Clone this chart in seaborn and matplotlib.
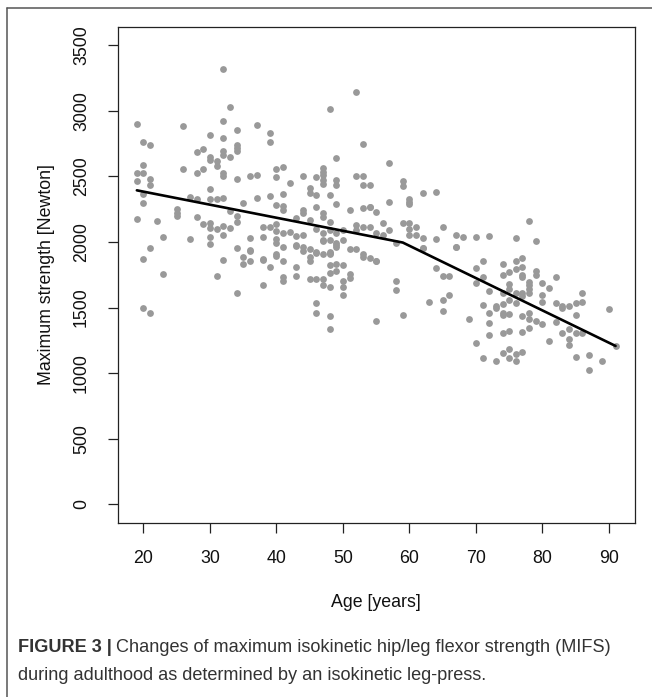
import matplotlib
matplotlib.use("Agg")
import matplotlib.pyplot as plt
from matplotlib.lines import Line2D
import seaborn as sns
import pandas as pd

# age in years and maximum strength in Newton, column by column
age = [19, 19, 19, 19,
       20, 20, 20, 20, 20, 20, 20,
       21, 21, 21, 21, 21,
       22, 23, 23,
       25, 25, 25,
       26, 26,
       27, 27,
       28, 28, 28, 28,
       29, 29, 29,
       30, 30, 30, 30, 30, 30, 30, 30, 30,
       31, 31, 31, 31, 31,
       32, 32, 32, 32, 32, 32, 32, 32, 32, 32, 32,
       33, 33, 33, 33,
       34, 34, 34, 34, 34, 34, 34, 34, 34,
       35, 35, 35,
       36, 36, 36, 36, 36,
       37, 37, 37,
       38, 38, 38, 38, 38,
       39, 39, 39, 39, 39,
       40, 40, 40, 40, 40, 40, 40, 40, 40,
       41, 41, 41, 41, 41, 41, 41, 41, 41,
       42, 42,
       43, 43, 43, 43, 43, 43,
       44, 44, 44, 44, 44, 44,
       45, 45, 45, 45, 45, 45, 45,
       46, 46, 46, 46, 46, 46, 46, 46, 46,
       47, 47, 47, 47, 47, 47, 47, 47, 47, 47, 47, 47, 47,
       48, 48, 48, 48, 48, 48, 48, 48, 48, 48, 48, 48, 48,
       49, 49, 49, 49, 49, 49, 49, 49, 49, 49,
       50, 50, 50, 50, 50, 50,
       51, 51, 51, 51,
       52, 52, 52, 52, 52,
       53, 53, 53, 53, 53, 53, 53,
       54, 54, 54, 54, 54,
       55, 55, 55, 55, 55,
       56, 56,
       57, 57, 57,
       58, 58, 58,
       59, 59, 59, 59,
       60, 60, 60, 60, 60, 60,
       61, 61,
       62, 62, 62, 62,
       63,
       64, 64, 64,
       65, 65, 65, 65,
       66, 66,
       67, 67, 67,
       68,
       69,
       70, 70, 70, 70,
       71, 71, 71, 71,
       72, 72, 72, 72, 72,
       73, 73, 73,
       74, 74, 74, 74, 74, 74, 74, 74,
       75, 75, 75, 75, 75, 75, 75, 75,
       76, 76, 76, 76, 76, 76, 76,
       77, 77, 77, 77, 77, 77, 77, 77, 77,
       78, 78, 78, 78, 78, 78, 78, 78,
       79, 79, 79, 79,
       80, 80, 80, 80,
       81, 81,
       82, 82, 82,
       83, 83, 83,
       84, 84, 84, 84,
       85, 85, 85, 85,
       86, 86, 86,
       87, 87,
       89, 90, 91]

strength = [2899, 2525, 2464, 2177,
            2761, 2584, 2523, 2363, 2297, 1872, 1499,
            2736, 2482, 2434, 1956, 1458,
            2157, 2040, 1758,
            2248, 2223, 2197,
            2883, 2553,
            2342, 2020,
            2688, 2528, 2327, 2190,
            2711, 2558, 2134,
            2815, 2647, 2624, 2401, 2324, 2147, 2103, 2037, 1987,
            2614, 2579, 2324, 2096, 1738,
            3318, 2922, 2789, 2695, 2662, 2523, 2502, 2337, 2121, 2050, 1862,
            3031, 2645, 2236, 2103,
            2855, 2736, 2713, 2695, 2479, 2197, 2154, 1956, 1613,
            2294, 1887, 1834,
            2505, 2032, 1938, 1928, 1852,
            2891, 2507, 2337,
            2116, 2040, 1867, 1865, 1669,
            2827, 2764, 2350, 2116, 1809,
            2553, 2497, 2284, 2136, 2083, 2022, 1989, 1905, 1895,
            2573, 2363, 2274, 2243, 2065, 1964, 1852, 1732, 1699,
            2446, 2073,
            2180, 2045, 1969, 1974, 1811, 1738,
            2505, 2243, 2218, 2053, 1964, 1928,
            2411, 2370, 2167, 1948, 1887, 1852, 1715,
            2497, 2357, 2269, 2096, 1913, 1920, 1715, 1532, 1456,
            2560, 2535, 2510, 2472, 2439, 2218, 2193, 2065, 2014, 1908, 1715, 1669, 2004,
            3010, 2357, 2154, 2091, 2014, 1913, 1923, 1908, 1821, 1760, 1659, 1435, 1336,
            2637, 2472, 2434, 2286, 2065, 1976, 1989, 1964, 1829, 1776,
            2091, 2014, 1821, 1705, 1659, 1593,
            2243, 1943, 1755, 1725,
            3145, 2505, 2129, 2091, 1943,
            2746, 2505, 2434, 2256, 2116, 1887, 1905,
            2269, 2263, 2116, 1875, 2434,
            2228, 2065, 1855, 1857, 1400,
            2147, 2053,
            2599, 2307, 2091,
            1994, 1705, 1633,
            2467, 2426, 2141, 1443,
            2324, 2307, 2289, 2147, 2096, 2053,
            2116, 2053,
            2370, 2027, 1951, 1951,
            1539,
            2380, 2020, 1804,
            2116, 1740, 1557, 1476,
            1743, 1595,
            2053, 1959, 1959,
            2040,
            1415,
            2040, 1799, 1684, 1227,
            1854, 1730, 1519, 1113,
            2045, 1626, 1461, 1384, 1290,
            1514, 1494, 1095,
            1832, 1748, 1608, 1524, 1456, 1443, 1303, 1151,
            1773, 1679, 1638, 1557, 1450, 1323, 1181, 1113,
            2027, 1857, 1791, 1608, 1537, 1146, 1095,
            1875, 1806, 1748, 1735, 1613, 1588, 1435, 1316, 1163,
            2157, 1697, 1671, 1638, 1608, 1456, 1410, 1341,
            2004, 1781, 1748, 1400,
            1684, 1595, 1544, 1374,
            1646, 1247,
            1730, 1537, 1392,
            1511, 1494, 1303,
            1511, 1334, 1257, 1214,
            1537, 1443, 1303, 1120,
            1608, 1544, 1303,
            1138, 1024,
            1095, 1486, 1207]

# piecewise regression line (knots)
fit_age = [19, 59, 91]
fit_strength = [2393, 1995, 1207]

x_ticks = [20, 30, 40, 50, 60, 70, 80, 90]
y_ticks = [0, 500, 1000, 1500, 2000, 2500, 3000, 3500]

df = pd.DataFrame({"age": age, "strength": strength})
fit = pd.DataFrame({"age": fit_age, "strength": fit_strength})

sns.set_style("white")
plt.rcParams["font.family"] = ["Liberation Sans", "DejaVu Sans"]

fig = plt.figure(figsize=(6.52, 6.97), dpi=100)
ax = fig.add_axes([117.7 / 652, 1 - 522.7 / 697, 517 / 652, 496 / 697])

sns.scatterplot(data=df, x="age", y="strength", ax=ax, color="#999999",
                s=24, linewidth=0, zorder=2)
sns.lineplot(data=fit, x="age", y="strength", ax=ax, color="black",
             linewidth=1.9, zorder=3)

ax.set_xlim(16.12, 93.88)
ax.set_ylim(-140, 3640)
ax.set_xticks(x_ticks)
ax.set_yticks(y_ticks)
ax.set_yticklabels([str(v) for v in y_ticks], rotation=90, va="center")
ax.tick_params(axis="both", direction="out", length=7, width=0.9,
               bottom=True, left=True, color="#222222", labelsize=12.8,
               labelcolor="#111111")
ax.tick_params(axis="x", pad=13)
ax.tick_params(axis="y", pad=13)
for sp in ax.spines.values():
    sp.set_visible(True)
    sp.set_color("#222222")
    sp.set_linewidth(0.9)
ax.set_xlabel("Age [years]", fontsize=12.8, color="#111111", labelpad=19)
ax.set_ylabel("Maximum strength [Newton]", fontsize=12.8, color="#111111",
              labelpad=13)

# outer frame of the figure panel
fig.add_artist(Line2D([6.5 / 652, 1], [1 - 8 / 697, 1 - 8 / 697],
                      transform=fig.transFigure, color="#555555", lw=1.1))
fig.add_artist(Line2D([6.5 / 652, 6.5 / 652], [0, 1 - 8 / 697],
                      transform=fig.transFigure, color="#555555", lw=1.1))

# caption
cap_font = ["Liberation Sans Narrow", "Liberation Sans", "DejaVu Sans"]
t1 = fig.text(18 / 652, 1 - 648 / 697, "FIGURE 3 |", fontsize=13.1,
              fontweight="bold", color="#333333", va="center", family=cap_font)
fig.canvas.draw()
bb = t1.get_window_extent()
fig.text((bb.x1 + 4) / 652, 1 - 648 / 697,
         "Changes of maximum isokinetic hip/leg flexor strength (MIFS)",
         fontsize=13.1, color="#333333", va="center", family=cap_font)
fig.text(18 / 652, 1 - 675 / 697,
         "during adulthood as determined by an isokinetic leg-press.",
         fontsize=13.1, color="#333333", va="center", family=cap_font)

fig.savefig("out.png", dpi=100)
